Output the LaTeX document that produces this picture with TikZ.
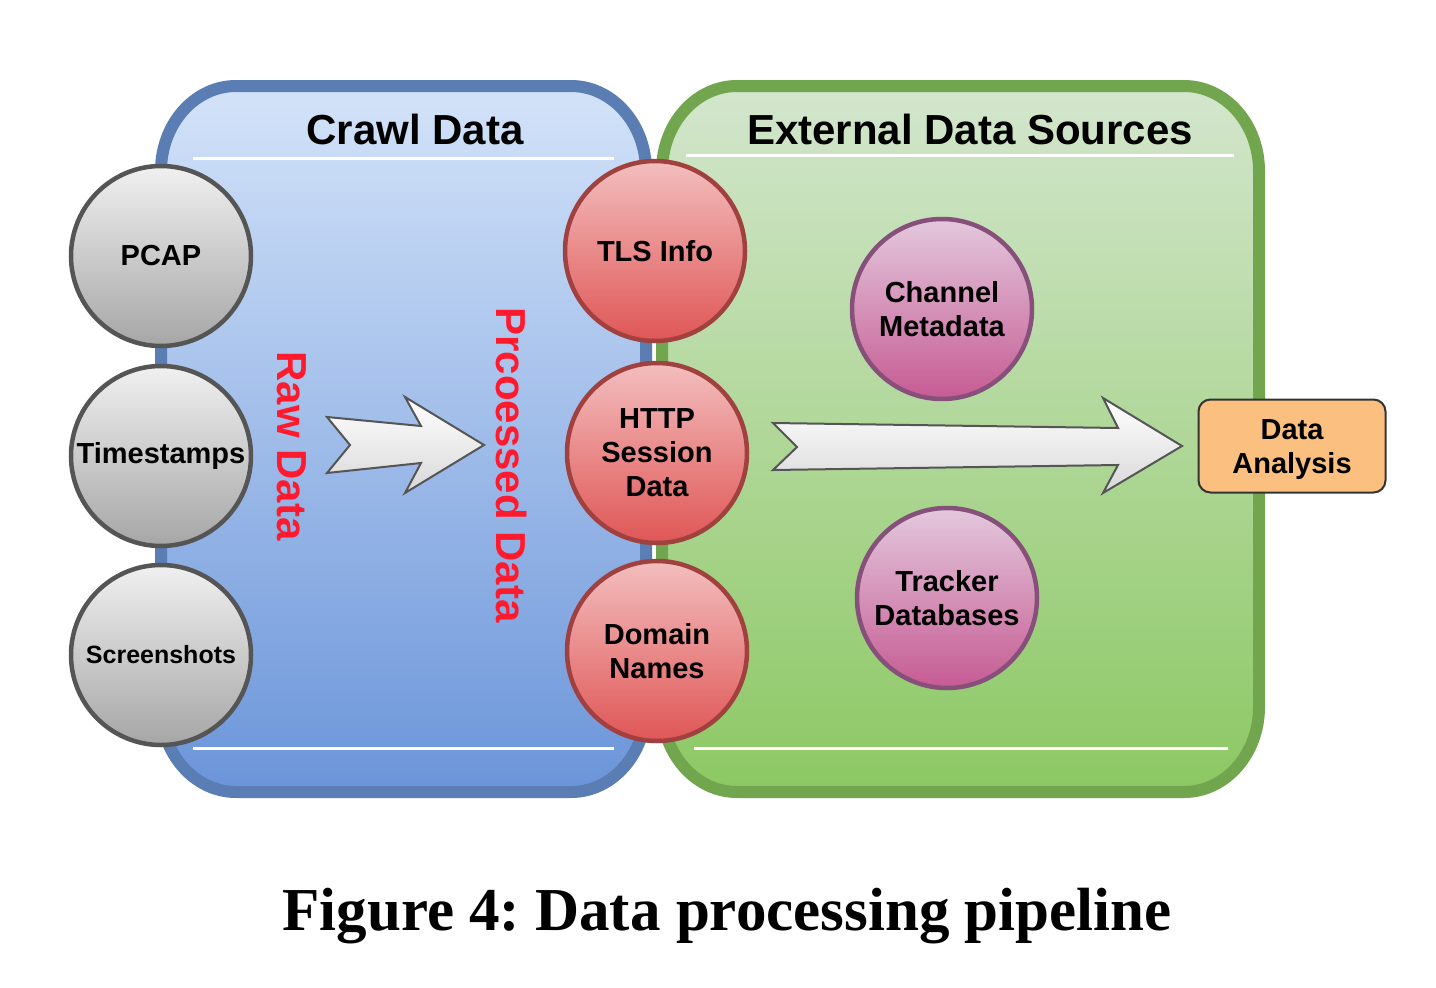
\documentclass[tikz,border=0pt]{standalone}
\usepackage{fontspec}
\setmainfont{Liberation Sans}
\newfontfamily\capfont{Liberation Serif}
\frenchspacing
\begin{document}
\begin{tikzpicture}[x=1pt,y=1pt,
  lbl/.style={font=\fontsize{29}{34}\selectfont\bfseries, align=center, text=black},
  ttl/.style={font=\fontsize{42}{46}\selectfont\bfseries, text=black},
  redtxt/.style={font=\fontsize{42}{46}\selectfont\bfseries, text=redlabel, rotate=-90},
  graycirc/.style={circle, minimum size=180pt, inner sep=0pt, draw=grayborder, line width=4.5pt, top color=graytop, bottom color=graybot, lbl},
  redcirc/.style={circle, minimum size=180pt, inner sep=0pt, draw=redborder, line width=4.5pt, top color=redtop, bottom color=redbot, lbl},
  purcirc/.style={circle, minimum size=180pt, inner sep=0pt, draw=purborder, line width=4.5pt, top color=purtop, bottom color=purbot, lbl},
  blockarrow/.style={draw=arrowborder, line width=2pt, top color=white, bottom color=arrowbot, line join=miter},
  sepline/.style={draw=white, line width=3pt},
]
\definecolor{blueborder}{HTML}{5A7DB3}
\definecolor{bluetop}{HTML}{D3E3F9}
\definecolor{bluebot}{HTML}{6B95D9}
\definecolor{greenborder}{HTML}{72A64E}
\definecolor{greentop}{HTML}{D3E6CD}
\definecolor{greenbot}{HTML}{8CC863}
\definecolor{grayborder}{HTML}{555555}
\definecolor{graytop}{HTML}{F0F0F0}
\definecolor{graybot}{HTML}{A6A6A6}
\definecolor{redborder}{HTML}{A0403F}
\definecolor{redtop}{HTML}{F3BEBE}
\definecolor{redbot}{HTML}{E05656}
\definecolor{purborder}{HTML}{86507A}
\definecolor{purtop}{HTML}{E3C8DD}
\definecolor{purbot}{HTML}{C65B93}
\definecolor{redlabel}{HTML}{FF1A2E}
\definecolor{arrowborder}{HTML}{555555}
\definecolor{arrowbot}{HTML}{D8D8D8}
\definecolor{orangefill}{HTML}{FBBF80}

\useasboundingbox (0,0) rectangle (1436,-988);
\fill[white] (0,0) rectangle (1436,-988);

% Crawl Data box
\draw[draw=blueborder, line width=12pt, top color=bluetop, bottom color=bluebot]
  (161,-171) arc[start angle=180,end angle=90,x radius=75,y radius=85]
  -- (571,-86) arc[start angle=90,end angle=0,x radius=75,y radius=85]
  -- (646,-707) arc[start angle=0,end angle=-90,x radius=75,y radius=85]
  -- (236,-792) arc[start angle=270,end angle=180,x radius=75,y radius=85]
  -- cycle;
% External Data Sources box
\draw[draw=greenborder, line width=12pt, top color=greentop, bottom color=greenbot]
  (662,-171) arc[start angle=180,end angle=90,x radius=75,y radius=85]
  -- (1184,-86) arc[start angle=90,end angle=0,x radius=75,y radius=85]
  -- (1259,-707) arc[start angle=0,end angle=-90,x radius=75,y radius=85]
  -- (737,-792) arc[start angle=270,end angle=180,x radius=75,y radius=85]
  -- cycle;

% separator lines
\coordinate (bl1) at (193,-158); \coordinate (br1) at (614,-158);
\coordinate (bl2) at (193,-748); \coordinate (br2) at (614,-748);
\coordinate (gl1) at (686,-155); \coordinate (gr1) at (1234,-155);
\coordinate (gl2) at (694,-748); \coordinate (gr2) at (1228,-748);
\draw[sepline] (bl1) -- (br1);
\draw[sepline] (bl2) -- (br2);
\draw[sepline] (gl1) -- (gr1);
\draw[sepline] (gl2) -- (gr2);

% titles
\node[ttl] (crawl) at (415,-129) {Crawl Data};
\node[ttl] (ext) at (970,-129) {External Data Sources};

% rotated labels
\node[redtxt] (raw) at (292,-446) {Raw Data};
\node[redtxt] (proc) at (512,-465) {Prcoessed Data};

% block arrows
\draw[blockarrow] (327,-417) -- (421,-426) -- (405,-397) -- (484,-445) -- (405,-493) -- (421,-463) -- (327,-473) -- (350,-445) -- cycle;
\draw[blockarrow] (773,-423) -- (1118,-428) -- (1103,-398) -- (1182,-446) -- (1103,-493) -- (1118,-465) -- (773,-470) -- (797,-447) -- cycle;

% gray circles
\node[graycirc] (pcap) at (161,-256) {PCAP};
\node[graycirc] (ts) at (161,-456) {\raisebox{-2pt}{Timestamps}};
\node[graycirc, font=\fontsize{25}{30}\selectfont\bfseries] (shots) at (161,-655) {\raisebox{-1pt}{Screenshots}};

% red circles
\node[redcirc] (tls) at (655,-251) {\raisebox{-2pt}{TLS Info}};
\node[redcirc] (http) at (657,-453) {HTTP\\Session\\Data};
\node[redcirc, text depth=0pt] (dom) at (657,-651) {Domain\\Names};

% purple circles
\node[purcirc] (chan) at (942,-309) {Channel\\Metadata};
\node[purcirc] (track) at (947,-598) {Tracker\\Databases};

% Data Analysis
\node[draw=black!80, line width=2pt, fill=orangefill, rounded corners=12pt, minimum width=187pt, minimum height=93pt, inner sep=0pt] (da) at (1292,-446) {};
\node[lbl] (daT) at ([yshift=-4pt]da.center) {Data\\Analysis};

% caption
\node[font=\capfont\fontsize{61}{66}\selectfont\bfseries, text=black] (cap) at (727,-916) {Figure 4: Data processing pipeline};
\end{tikzpicture}
\end{document}
